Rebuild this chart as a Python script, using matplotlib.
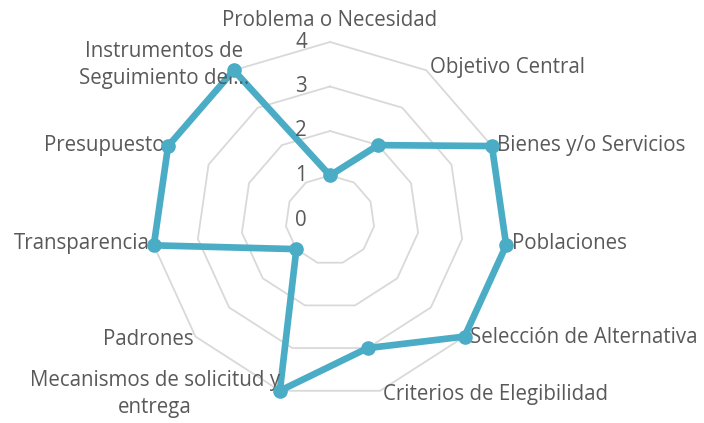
import numpy as np
import matplotlib
matplotlib.use("Agg")
import matplotlib.pyplot as plt

categories = ["Problema o Necesidad", "Objetivo Central", "Bienes y/o Servicios",
              "Poblaciones", "Selección de Alternativa", "Criterios de Elegibilidad",
              "Mecanismos de solicitud y\nentrega", "Padrones", "Transparencia",
              "Presupuesto", "Instrumentos de\nSeguimiento del…"]
values = [1, 2, 4, 4, 4, 3, 4, 1, 4, 4, 4]
ticks = [0, 1, 2, 3, 4]

# label placement: (offset px x, offset px y, ha)
label_pos = [
    (0, 22, "center"),
    (4, 3, "left"),
    (5, 1, "left"),
    (6, 2, "left"),
    (5, -1, "left"),
    (3, -4, "left"),
    (0, -3, "right"),
    (-2, -3, "right"),
    (-4, 2, "right"),
    (-3, 1, "right"),
    (15, 5, "right"),
]

color = "#4BACC6"
grid_color = "#D9D9D9"
text_color = "#595959"
font = "Open Sans"
fs = 14.8

fig = plt.figure(figsize=(7.04, 4.23), dpi=100)
W, H = 704, 423
cx, cy, R = 330, 220, 178
ax = fig.add_axes([(cx - R) / W, (H - cy - R) / H, 2 * R / W, 2 * R / H], projection="polar")
ax.set_theta_zero_location("N")
ax.set_theta_direction(-1)
ax.set_ylim(0, 4)
ax.axis("off")

n = len(categories)
theta = np.linspace(0, 2 * np.pi, n, endpoint=False)
theta_c = np.append(theta, theta[0])

for t in ticks[1:]:
    ax.plot(theta_c, [t] * (n + 1), color=grid_color, lw=1.3, clip_on=False, zorder=1)

vals_c = values + values[:1]
ax.plot(theta_c, vals_c, color=color, lw=4.8, clip_on=False, zorder=3,
        solid_joinstyle="round")
ax.plot(theta, values, "o", color=color, ms=9.5, clip_on=False, zorder=4)

for t in ticks:
    ax.annotate(str(t), xy=(0, t), xytext=(-29, 0), textcoords="offset pixels",
                ha="center", va="center", fontsize=fs, color=text_color,
                family=font, annotation_clip=False)

for i, (lab, (dx, dy, ha)) in enumerate(zip(categories, label_pos)):
    ax.annotate(lab, xy=(theta[i], 4), xytext=(dx, dy), textcoords="offset pixels",
                ha=ha, va="center", fontsize=fs, color=text_color, family=font,
                multialignment="center", annotation_clip=False, linespacing=1.4)

fig.savefig("out.png", dpi=100)
